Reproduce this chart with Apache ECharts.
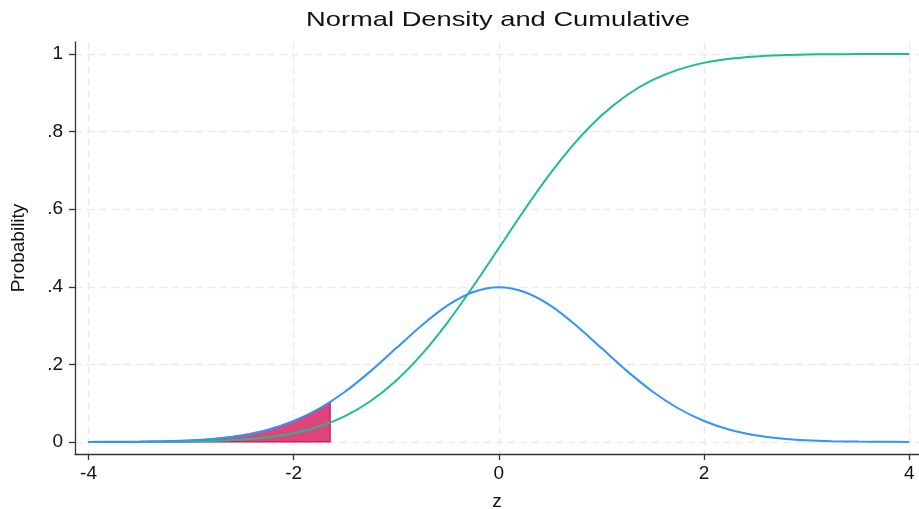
<!DOCTYPE html>
<html>
<head>
<meta charset="utf-8">
<script src="https://cdn.jsdelivr.net/npm/echarts@6/dist/echarts.min.js"></script>
<style>
  html, body { margin: 0; padding: 0; background: #fff; }
  #chart { width: 919px; height: 509px; }
</style>
</head>
<body>
<div id="chart"></div>
<script>
// z grid and values
const zValues = [-4, -3.75, -3.5, -3.25, -3, -2.75, -2.5, -2.25, -2, -1.75, -1.5, -1.25, -1, -0.75, -0.5, -0.25,
  0, 0.25, 0.5, 0.75, 1, 1.25, 1.5, 1.75, 2, 2.25, 2.5, 2.75, 3, 3.25, 3.5, 3.75, 4];
const densityValues = [0.0001, 0.0004, 0.0009, 0.0020, 0.0044, 0.0091, 0.0175, 0.0317, 0.0540, 0.0863, 0.1295, 0.1826,
  0.2420, 0.3011, 0.3521, 0.3867, 0.3989, 0.3867, 0.3521, 0.3011, 0.2420, 0.1826, 0.1295, 0.0863, 0.0540, 0.0317,
  0.0175, 0.0091, 0.0044, 0.0020, 0.0009, 0.0004, 0.0001];
const cumulativeValues = [0.0000, 0.0001, 0.0002, 0.0006, 0.0013, 0.0030, 0.0062, 0.0122, 0.0228, 0.0401, 0.0668,
  0.1057, 0.1587, 0.2266, 0.3085, 0.4013, 0.5000, 0.5987, 0.6915, 0.7734, 0.8413, 0.8944, 0.9332, 0.9599, 0.9772,
  0.9878, 0.9938, 0.9970, 0.9987, 0.9994, 0.9998, 0.9999, 1.0000];

// shaded lower tail, up to z = -1.645
const shadeZ = [-4, -3.875, -3.75, -3.625, -3.5, -3.375, -3.25, -3.125, -3, -2.875, -2.75, -2.625, -2.5, -2.375,
  -2.25, -2.125, -2, -1.875, -1.75, -1.645];
const shadeDensity = [0.0001, 0.0002, 0.0004, 0.0006, 0.0009, 0.0013, 0.0020, 0.0030, 0.0044, 0.0064, 0.0091, 0.0127,
  0.0175, 0.0238, 0.0317, 0.0417, 0.0540, 0.0688, 0.0863, 0.1031];

const xTicks = [-4, -2, 0, 2, 4];
const yTicks = [0, 0.2, 0.4, 0.6, 0.8, 1];

const chart = echarts.init(document.getElementById('chart'), null, { renderer: 'canvas' });

const font = '"Liberation Sans", Arial, Helvetica, sans-serif';
const gridLine = { show: true, lineStyle: { color: '#ebebeb', type: [8, 4], width: 1.4 } };
const axisColor = '#333';

const densityData = zValues.map((z, i) => [z, densityValues[i]]);
const cumulativeData = zValues.map((z, i) => [z, cumulativeValues[i]]);
const shadeData = shadeZ.map((z, i) => [z, shadeDensity[i]]);

const option = {
  animation: false,
  backgroundColor: '#fff',
  // title drawn as graphic text so it can be widened like the original
  graphic: [{
    type: 'text',
    x: 498, y: 10,
    scaleX: 1.3,
    style: {
      text: 'Normal Density and Cumulative',
      align: 'center', verticalAlign: 'top',
      fontFamily: font, fontSize: 21, fill: '#111'
    }
  }],
  grid: { left: 75, right: 0, top: 42, bottom: 55, outerBoundsMode: 'none', containLabel: false },
  xAxis: {
    type: 'value', min: -4.132, max: 4.095,
    name: 'z', nameLocation: 'middle', nameGap: 38,
    nameTextStyle: { fontFamily: font, fontSize: 19, color: '#111' },
    axisLine: { show: true, onZero: false, lineStyle: { color: axisColor, width: 1.3 } },
    axisTick: { show: true, length: 6, customValues: xTicks, lineStyle: { color: axisColor, width: 1.3 } },
    axisLabel: { customValues: xTicks, fontFamily: font, fontSize: 19, color: '#111', margin: 10 },
    splitLine: gridLine
  },
  yAxis: {
    type: 'value', min: -0.031, max: 1.031,
    name: 'Probability', nameLocation: 'middle', nameGap: 47, nameRotate: 90,
    nameTextStyle: { fontFamily: font, fontSize: 19, color: '#111' },
    axisLine: { show: true, onZero: false, lineStyle: { color: axisColor, width: 1.3 } },
    axisTick: { show: true, length: 6, customValues: yTicks, lineStyle: { color: axisColor, width: 1.3 } },
    axisLabel: {
      customValues: yTicks, fontFamily: font, fontSize: 19, color: '#111', margin: 12,
      formatter: v => (v === 0 || v === 1) ? String(v) : String(Math.round(v * 10) / 10).replace(/^0/, '')
    },
    splitLine: gridLine
  },
  series: [
    {
      name: 'tail',
      type: 'custom',
      z: 1,
      renderItem: function (params, api) {
        if (params.dataIndex !== 0) return null;
        const pts = shadeData.map(d => api.coord(d));
        pts.push(api.coord([shadeZ[shadeZ.length - 1], 0]));
        pts.push(api.coord([shadeZ[0], 0]));
        return {
          type: 'polygon',
          shape: { points: pts },
          style: { fill: 'rgba(212,17,89,0.78)', stroke: '#d41159', lineWidth: 1.2 }
        };
      },
      data: shadeData
    },
    {
      name: 'density', type: 'line', data: densityData, smooth: 0.3, showSymbol: false, z: 3,
      lineStyle: { color: '#3393ff', width: 2 }
    },
    {
      name: 'cumulative', type: 'line', data: cumulativeData, smooth: 0.3, showSymbol: false, z: 2,
      lineStyle: { color: '#1cbf88', width: 2 }
    }
  ]
};

chart.setOption(option);
</script>
</body>
</html>
